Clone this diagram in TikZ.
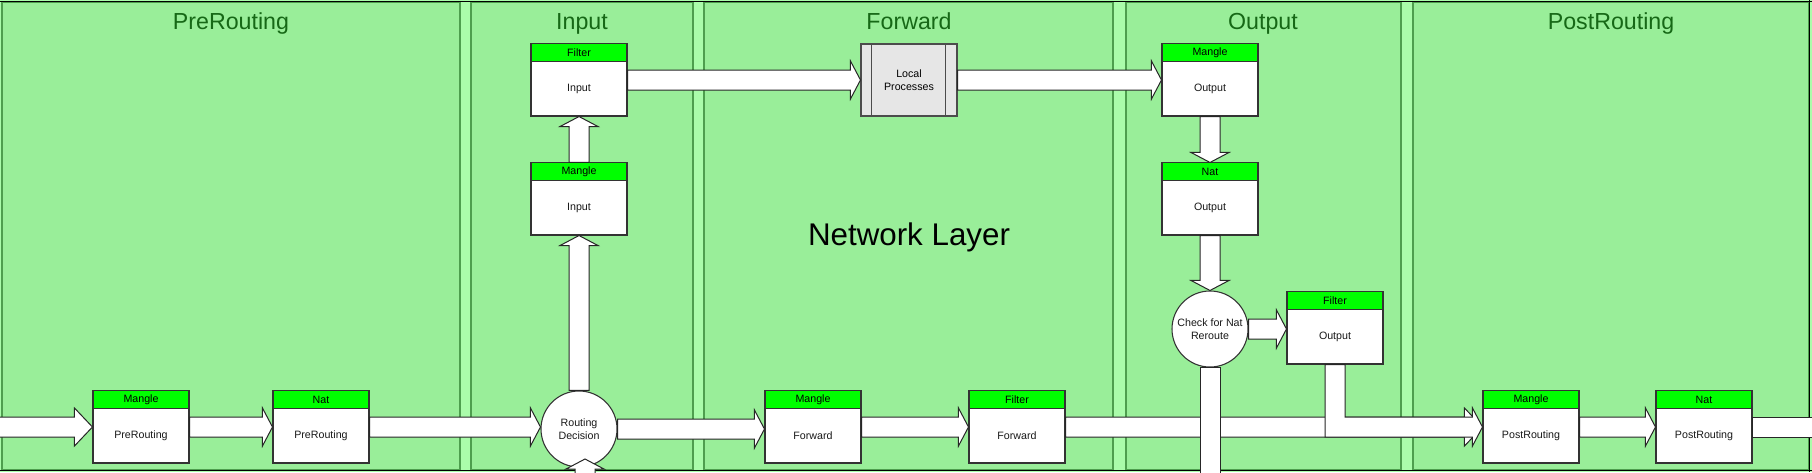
\documentclass[tikz,border=0pt]{standalone}
\usepackage{fontspec}
\setmainfont{Liberation Sans}
\usetikzlibrary{calc}
\definecolor{lanefill}{HTML}{99EE99}
\definecolor{gapfill}{HTML}{AAFCAA}
\definecolor{laneline}{HTML}{4E9E4E}
\definecolor{hdrfill}{HTML}{00FF00}
\definecolor{titlecol}{HTML}{166816}
\definecolor{lpfill}{HTML}{E6E6E6}
\newcommand\smallfont{\fontsize{8}{9.6}\selectfont}
% rightwards block arrow: [head length]{from}{to}
\newcommand\rblk[3][10]{%
  \draw[blk] ($(#2)+(0,-10)$) -- ($(#2 -| #3)+(-#1,-10)$) -- ($(#2 -| #3)+(-#1,-19)$) -- (#2 -| #3)
    -- ($(#2 -| #3)+(-#1,19)$) -- ($(#2 -| #3)+(-#1,10)$) -- ($(#2)+(0,10)$) -- cycle;}
% upwards block arrow
\newcommand\ublk[3][10]{%
  \draw[blk] ($(#2)+(-10,0)$) -- ($(#2 |- #3)+(-10,#1)$) -- ($(#2 |- #3)+(-19,#1)$) -- (#2 |- #3)
    -- ($(#2 |- #3)+(19,#1)$) -- ($(#2 |- #3)+(10,#1)$) -- ($(#2)+(10,0)$) -- cycle;}
% downwards block arrow
\newcommand\dblk[3][10]{%
  \draw[blk] ($(#2)+(-10,0)$) -- ($(#2 |- #3)+(-10,-#1)$) -- ($(#2 |- #3)+(-19,-#1)$) -- (#2 |- #3)
    -- ($(#2 |- #3)+(19,-#1)$) -- ($(#2 |- #3)+(10,-#1)$) -- ($(#2)+(10,0)$) -- cycle;}
% table box: name, x, y, header, body
\newcommand\tblbox[5]{%
  \node[tbox] (#1) at (#2,#3) {};
  \node[hdr] (#1-h) at ($(#1.north)+(0,9)$) {#4};
  \node[btxt] (#1-t) at ($(#1.center)+(0,9)$) {#5};}
\begin{document}
\begin{tikzpicture}[x=0.75pt,y=-0.75pt,
  lane/.style={fill=lanefill,draw=laneline,line width=1.1pt},
  lanetitle/.style={font=\fontsize{17.4}{20}\selectfont,text=titlecol,anchor=base,inner sep=0pt},
  tbox/.style={draw=black!80,fill=white,line width=0.8pt,minimum width=72pt,minimum height=54pt,inner sep=0pt},
  hdr/.style={draw=black!80,fill=hdrfill,line width=0.8pt,minimum width=72pt,minimum height=13.5pt,inner sep=0pt,font=\smallfont},
  btxt/.style={font=\smallfont,text=black!90,inner sep=0pt},
  decision/.style={circle,draw=black!80,fill=white,line width=0.8pt,minimum size=57pt,inner sep=0pt,font=\smallfont,align=center,text=black!90},
  lpbox/.style={draw=black!70,fill=lpfill,line width=0.8pt,minimum width=72pt,minimum height=54pt,inner sep=0pt,font=\smallfont,align=center},
  blk/.style={draw=black!85,fill=white,line width=0.75pt,line join=miter},
  border/.style={draw=black,line width=1pt}]
\useasboundingbox (0,0) rectangle (1812,472);
\clip (0,0) rectangle (1812,472);
% lanes
\fill[gapfill] (0,0) rectangle (1812,472);
\draw[lane] (2,2) rectangle (460,470);
\draw[lane] (471,2) rectangle (693,470);
\draw[lane] (704,2) rectangle (1113,470);
\draw[lane] (1126,2) rectangle (1401,470);
\draw[lane] (1413,2) rectangle (1809,470);
\draw[border] (0,1.5) -- (1812,1.5);
\draw[border] (0,470.5) -- (1812,470.5);
\draw[border] (1809.5,0) -- (1809.5,472);
% titles
\node[lanetitle] (t1) at (231,29) {PreRouting};
\node[lanetitle] (t2) at (582,29) {Input};
\node[lanetitle] (t3) at (909,29) {Forward};
\node[lanetitle] (t4) at (1263,29) {Output};
\node[lanetitle] (t5) at (1611,29) {PostRouting};
\node[font=\fontsize{23.5}{28}\selectfont,anchor=base,inner sep=0pt] (nl) at (909,245) {Network Layer};
% boxes
\tblbox{mpre}{141}{427}{Mangle}{PreRouting}
\tblbox{npre}{321}{427}{Nat}{PreRouting}
\node[decision] (rd) at (579,429) {Routing\\Decision};
\tblbox{mfwd}{813}{427}{Mangle}{Forward}
\tblbox{ffwd}{1017}{427}{Filter}{Forward}
\tblbox{mpost}{1531}{427}{Mangle}{PostRouting}
\tblbox{npost}{1704}{427}{Nat}{PostRouting}
\tblbox{fi}{579}{80}{Filter}{Input}
\tblbox{mi}{579}{199}{Mangle}{Input}
\node[lpbox] (lp) at (909,80) {Local\\Processes};
\draw[draw=black!70,line width=0.8pt] ($(lp.north west)+(11,0)$) -- ($(lp.south west)+(11,0)$);
\draw[draw=black!70,line width=0.8pt] ($(lp.north east)+(-12,0)$) -- ($(lp.south east)+(-12,0)$);
\tblbox{mo}{1210}{80}{Mangle}{Output}
\tblbox{no}{1210}{199}{Nat}{Output}
\node[decision] (ck) at (1210,329) {Check for Nat\\Reroute};
\tblbox{fo}{1335}{328}{Filter}{Output}
% free ends
\coordinate (inL) at (-5,427);
\coordinate (outR) at ($(npost.east)+(90,0)$);
\coordinate (outD) at ($(ck.south)+(0,140)$);
\coordinate (rdin) at (585,500);
\coordinate (rdtip) at (585,459);
% arrows
\rblk[18]{inL}{mpre.west}
\rblk{mpre.east}{npre.west}
\rblk{npre.east}{rd.west}
\rblk{rd.east}{mfwd.west}
\rblk{mfwd.east}{ffwd.west}
\rblk[18]{ffwd.east}{mpost.west}
\rblk{mpost.east}{npost.west}
\draw[blk] ($(npost.east)+(0,-10)$) rectangle ($(outR)+(0,10)$);
\ublk{rd.north}{mi.south}
\ublk{mi.north}{fi.south}
\rblk{fi.east}{lp.west}
\rblk{lp.east}{mo.west}
\dblk{mo.south}{no.north}
\dblk{no.south}{ck.north}
\rblk{ck.east}{fo.west}
\draw[blk] ($(ck.south)+(-10,0)$) rectangle ($(outD)+(10,0)$);
\draw[blk] ($(fo.south)+(-10,0)$) -- ($(fo.south |- mpost.west)+(-10,10)$) -- ($(mpost.west)+(-10,10)$)
  -- ($(mpost.west)+(-10,19)$) -- (mpost.west) -- ($(mpost.west)+(-10,-19)$) -- ($(mpost.west)+(-10,-10)$)
  -- ($(fo.south |- mpost.west)+(10,-10)$) -- ($(fo.south)+(10,0)$) -- cycle;
\ublk{rdin}{rdtip}
\end{tikzpicture}
\end{document}
